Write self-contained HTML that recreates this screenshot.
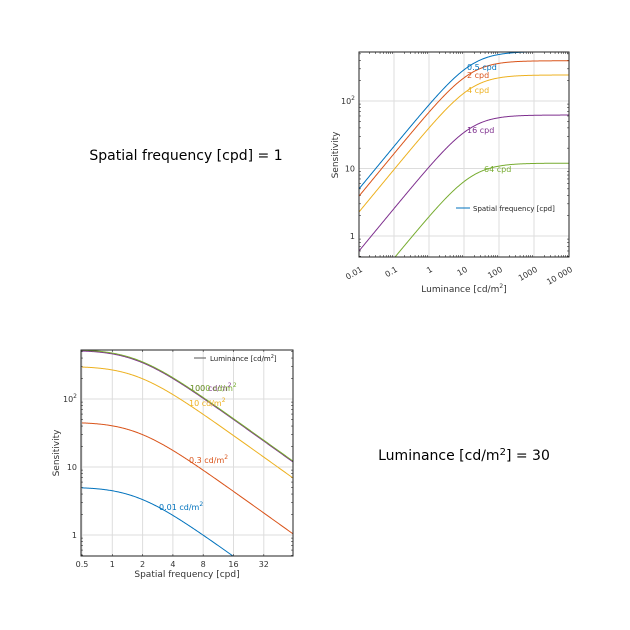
<!DOCTYPE html>
<html><head><meta charset="utf-8"><style>
html,body{margin:0;padding:0;background:#fff;width:630px;height:630px;overflow:hidden}
svg text{font-family:"DejaVu Sans","Liberation Sans",sans-serif}
</style></head><body>
<svg id="s" width="630" height="630" xmlns="http://www.w3.org/2000/svg">
<text x="186" y="160" font-size="14" text-anchor="middle" fill="#000">Spatial frequency [cpd] = 1</text>
<text x="464" y="460" font-size="14" text-anchor="middle" fill="#000">Luminance [cd/m<tspan dy="-5" font-size="10">2</tspan><tspan dy="5">] = 30</tspan></text>
</svg>
<script>
const S=document.getElementById('s');const NS='http://www.w3.org/2000/svg';
function el(t,a,txt){const e=document.createElementNS(NS,t);for(const k in a)e.setAttribute(k,a[k]);if(txt!=null)e.innerHTML=txt;S.appendChild(e);return e;}
const C=['#0072BD','#D95319','#EDB120','#7E2F8E','#77AC30'];
// Plot 1
{const L=359,R=569,T=52,B=257;
const X=v=>L+(Math.log10(v)+2)*35, Y=v=>236-Math.log10(v)*67.5;
el('defs',{},'<clipPath id="c1"><rect x="'+L+'" y="'+T+'" width="'+(R-L)+'" height="'+(B-T)+'"/></clipPath><clipPath id="c2"><rect x="81" y="350" width="212" height="206"/></clipPath>');
for(let d=-2;d<=4;d++){const x=X(10**d);el('line',{x1:x,x2:x,y1:T,y2:B,stroke:'#ddd','stroke-width':1});
 el('text',{x:x+4,y:B+14,'font-size':8,'text-anchor':'end',fill:'#333',transform:'rotate(-30 '+(x+4)+' '+(B+14)+')'},String(10**d).replace('10000','10 000'));
 for(let m=2;m<10&&d<4;m++){const xm=X(m*10**d);el('line',{x1:xm,x2:xm,y1:B,y2:B-2,stroke:'#333','stroke-width':.6});el('line',{x1:xm,x2:xm,y1:T,y2:T+2,stroke:'#333','stroke-width':.6});}}
for(let d=0;d<=2;d++){const y=Y(10**d);el('line',{x1:L,x2:R,y1:y,y2:y,stroke:'#ddd'});
 el('text',{x:L-4,y:y+3,'font-size':8,'text-anchor':'end',fill:'#333'},d==2?'10<tspan dy="-4" font-size="6">2</tspan>':String(10**d));}
for(let d=-1;d<=2;d++)for(let m=2;m<10;m++){const y=Y(m*10**d);if(y<T||y>B)continue;el('line',{x1:L,x2:L+2,y1:y,y2:y,stroke:'#333','stroke-width':.6});el('line',{x1:R,x2:R-2,y1:y,y2:y,stroke:'#333','stroke-width':.6});}
const smax=[540,395,243,62,12];const lo=[5,3.9,2.27,0.6,0.11];
smax.forEach((m,i)=>{const L0=0.01*Math.pow(m/lo[i],1/0.63);let p='';for(let k=0;k<=300;k++){const lv=-2+6*k/300,l=10**lv;const s=m*Math.pow(1+L0/l,-0.63);p+=(k?'L':'M')+X(l).toFixed(2)+' '+Y(s).toFixed(2);}
 el('path',{d:p,fill:'none',stroke:C[i],'stroke-width':1,'clip-path':'url(#c1)'});});
[['0.5 cpd',467,70],['2 cpd',467,78],['4 cpd',467,93],['16 cpd',467,133],['64 cpd',484,172]].forEach((a,i)=>el('text',{x:a[1],y:a[2],'font-size':8,fill:C[i]},a[0]));
el('line',{x1:456,x2:470,y1:208,y2:208,stroke:C[0]});el('text',{x:473,y:211,'font-size':7,fill:'#222'},'Spatial frequency [cpd]');
el('rect',{x:L,y:T,width:R-L,height:B-T,fill:'none',stroke:'#222','stroke-width':1});
el('text',{x:464,y:292,'font-size':9,'text-anchor':'middle',fill:'#333'},'Luminance [cd/m<tspan dy="-4" font-size="6">2</tspan><tspan dy="4">]</tspan>');
el('text',{x:0,y:0,'font-size':9,'text-anchor':'middle',fill:'#333',transform:'translate(338 155) rotate(-90)'},'Sensitivity');}
// Plot 2
{const L=81,R=293,T=350,B=556;
const X=f=>82+Math.log2(f/0.5)*30.3, Y=v=>235+300-Math.log10(v)*68;
[0.5,1,2,4,8,16,32].forEach(f=>{const x=X(f);el('line',{x1:x,x2:x,y1:T,y2:B,stroke:'#ddd'});el('text',{x:x,y:B+11,'font-size':8,'text-anchor':'middle',fill:'#333'},String(f));
 el('line',{x1:x,x2:x,y1:B,y2:B-2,stroke:'#333','stroke-width':.6});el('line',{x1:x,x2:x,y1:T,y2:T+2,stroke:'#333','stroke-width':.6});});
for(let d=0;d<=2;d++){const y=Y(10**d);el('line',{x1:L,x2:R,y1:y,y2:y,stroke:'#ddd'});
 el('text',{x:L-4,y:y+3,'font-size':8,'text-anchor':'end',fill:'#333'},d==2?'10<tspan dy="-4" font-size="6">2</tspan>':String(10**d));}
for(let d=-1;d<=2;d++)for(let m=2;m<10;m++){const y=Y(m*10**d);if(y<T||y>B)continue;el('line',{x1:L,x2:L+2,y1:y,y2:y,stroke:'#333','stroke-width':.6});el('line',{x1:R,x2:R-2,y1:y,y2:y,stroke:'#333','stroke-width':.6});}
const pk=[5.1,46,305,525,540];
pk.forEach((m,i)=>{let p='';for(let k=0;k<=300;k++){const lf=Math.log2(0.5)+7*k/300,f=2**lf;const s=m*1.03*Math.pow(1+(f/1.7)**2,-0.53)*(1-0.1*Math.exp(-f/0.3));p+=(k?'L':'M')+X(f).toFixed(2)+' '+Y(s).toFixed(2);}
 el('path',{d:p,fill:'none',stroke:C[i],'stroke-width':1,'clip-path':'url(#c2)'});});
const sup='cd/m<tspan dy="-4" font-size="6">2</tspan>';
[['0.01 ',159,510],['0.3 ',189,463],['10 ',189,406],['100 ',190,391],['1000 ',190,391]].forEach((a,i)=>el('text',{x:a[1],y:a[2],'font-size':8,fill:C[i]},a[0]+sup));
el('line',{x1:194,x2:206,y1:358,y2:358,stroke:'#555'});el('text',{x:210,y:361,'font-size':7,fill:'#222'},'Luminance [cd/m<tspan dy="-3" font-size="5">2</tspan><tspan dy="3">]</tspan>');
el('rect',{x:L,y:T,width:R-L,height:B-T,fill:'none',stroke:'#222','stroke-width':1});
el('text',{x:187,y:577,'font-size':9,'text-anchor':'middle',fill:'#333'},'Spatial frequency [cpd]');
el('text',{x:0,y:0,'font-size':9,'text-anchor':'middle',fill:'#333',transform:'translate(59 453) rotate(-90)'},'Sensitivity');}
</script>
</body></html>
